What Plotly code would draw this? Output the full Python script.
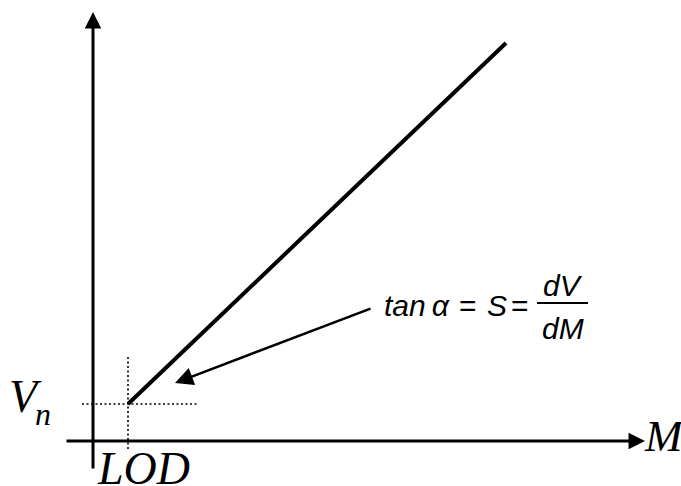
import plotly.graph_objects as go

# Coordinates are in diagram units: origin where the two axes cross,
# M to the right and V upward.
lod = 35          # limit of detection on the M axis
v_n = 37          # noise level on the V axis
response_m = [lod, 413]
response_v = [v_n, 398]

m_axis = [-28, 552]     # horizontal axis, tail -> arrow tip
v_axis = [-29, 429]     # vertical axis, tail -> arrow tip

lod_guide_v = [-8, 84]      # dotted vertical through LOD
vn_guide_m = [-11, 106]     # dotted horizontal through Vn

pointer_tail = (279, 133)   # slope-annotation arrow
pointer_tip = (82, 58)

frac_bar_m = [444, 495]
frac_bar_v = 138

fig = go.Figure()

# sensitivity line
fig.add_trace(go.Scatter(
    x=response_m, y=response_v, mode="lines",
    line=dict(color="black", width=4), hoverinfo="skip", showlegend=False))

# dotted guides at LOD and Vn
fig.add_trace(go.Scatter(
    x=vn_guide_m, y=[v_n, v_n], mode="lines",
    line=dict(color="black", width=1.6, dash="2px,2.5px"),
    hoverinfo="skip", showlegend=False))
fig.add_trace(go.Scatter(
    x=[lod, lod], y=lod_guide_v, mode="lines",
    line=dict(color="black", width=1.6, dash="2px,2.5px"),
    hoverinfo="skip", showlegend=False))

# fraction bar of dV/dM
fig.add_trace(go.Scatter(
    x=frac_bar_m, y=[frac_bar_v, frac_bar_v], mode="lines",
    line=dict(color="black", width=2), hoverinfo="skip", showlegend=False))

annotations = []

def arrow(tip, tail, width, size):
    annotations.append(dict(
        x=tip[0], y=tip[1], ax=tail[0], ay=tail[1],
        xref="x", yref="y", axref="x", ayref="y",
        text="", showarrow=True, arrowhead=2, arrowsize=size,
        arrowwidth=width, arrowcolor="black", standoff=0, startstandoff=0))

arrow((m_axis[1], 0), (m_axis[0], 0), 3, 1.1)
arrow((0, v_axis[1]), (0, v_axis[0]), 3, 1.1)
arrow(pointer_tip, pointer_tail, 2.5, 1.45)

serif = "Liberation Serif, Times New Roman, serif"
sans = "Liberation Sans, Arial, sans-serif"

def label(x, y, text, size, family, xanchor="center"):
    annotations.append(dict(
        x=x, y=y, xref="x", yref="y", text=text, showarrow=False,
        xanchor=xanchor, yanchor="middle",
        font=dict(family=family, size=size, color="black")))

label(-68, 45, "<i>V</i>", 46, serif)
label(-50, 27, "<i>n</i>", 32, serif)
label(lod + 15, -27, "<i>LOD</i>", 46, serif)
label(549, 5, "<i>M</i>", 45, serif, xanchor="left")

label(289, 136, "<i>tan\u2009α</i>", 30, sans, xanchor="left")
label(375, 136, "=", 30, sans)
label(404, 136, "<i>S</i>", 30, sans)
label(427, 136, "=", 30, sans)
label(470, 156, "<i>dV</i>", 30, sans)
label(470, 113, "<i>dM</i>", 30, sans)

fig.update_layout(
    width=681, height=486,
    margin=dict(l=0, r=0, t=0, b=0),
    paper_bgcolor="white", plot_bgcolor="white",
    xaxis=dict(range=[-93, 588], visible=False, fixedrange=True),
    yaxis=dict(range=[-45, 441], visible=False, fixedrange=True),
    annotations=annotations,
    showlegend=False,
)

fig.write_html("out.html")
